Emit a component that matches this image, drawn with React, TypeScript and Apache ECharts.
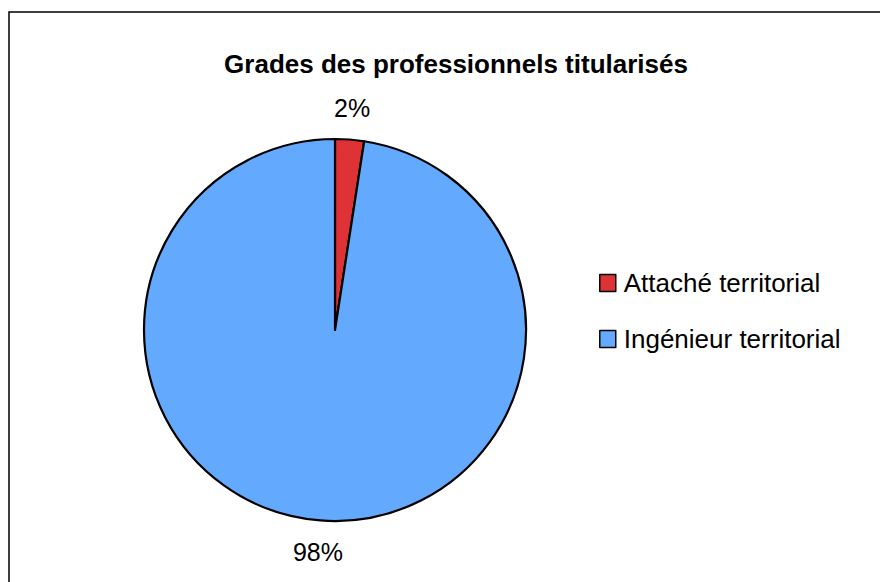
import React, { useEffect, useRef } from "react";
import * as echarts from "echarts";

const titleText = "Grades des professionnels titularisés";
const categories = ["Attaché territorial", "Ingénieur territorial"];
const counts = [1, 40];
const colors = ["#DE3236", "#63AAFF"];

const FONT = "'Liberation Sans', Arial, Helvetica, sans-serif";

export default function App() {
  const ref = useRef<HTMLDivElement>(null);
  useEffect(() => {
    if (!ref.current) return;
    const chart = echarts.init(ref.current, undefined, { renderer: "svg" });
    const data = categories.map((name, i) => ({
      name,
      value: counts[i],
      itemStyle: { color: colors[i] },
    }));
    const labelData = categories.map((name, i) => ({ name, value: counts[i] }));
    chart.setOption({
      animation: false,
      backgroundColor: "#ffffff",
      title: {
        text: titleText,
        left: 451,
        top: 46,
        textAlign: "center",
        textStyle: {
          fontFamily: FONT,
          fontSize: 26,
          fontWeight: "bold",
          color: "#000",
        },
      },
      legend: {
        orient: "vertical",
        left: 594,
        top: 265,
        itemWidth: 16,
        itemHeight: 17,
        itemGap: 30,
        icon: "rect",
        data: categories.map((name, i) => ({
          name,
          itemStyle: { color: colors[i], borderColor: "#000", borderWidth: 1.5 },
        })),
        textStyle: {
          fontFamily: FONT,
          fontSize: 26,
          color: "#000",
          padding: [0, 0, 0, 3],
        },
      },
      graphic: [
        {
          type: "rect",
          shape: { x: 9, y: 12, width: 1000, height: 1000 },
          style: { fill: "none", stroke: "#000", lineWidth: 1.5 },
          silent: true,
        },
      ],
      series: [
        {
          type: "pie",
          name: "grades",
          center: [335, 330],
          radius: 191,
          startAngle: 90,
          clockwise: true,
          avoidLabelOverlap: false,
          label: { show: false },
          labelLine: { show: false },
          itemStyle: { borderColor: "#000", borderWidth: 2.2 },
          emphasis: { disabled: true },
          data,
        },
        {
          type: "pie",
          name: "labels",
          center: [335, 330],
          radius: [200, 240],
          startAngle: 90,
          clockwise: true,
          silent: true,
          legendHoverLink: false,
          percentPrecision: 0,
          avoidLabelOverlap: false,
          itemStyle: { color: "rgba(0,0,0,0)", borderWidth: 0 },
          label: {
            show: true,
            position: "inside",
            formatter: "{d}%",
            fontFamily: FONT,
            fontSize: 25,
            color: "#000",
          },
          labelLine: { show: false },
          emphasis: { disabled: true },
          data: labelData,
        },
      ],
    });
    return () => chart.dispose();
  }, []);
  return (
    <div
      ref={ref}
      style={{ position: "fixed", left: 0, top: 0, width: 880, height: 582 }}
    />
  );
}
